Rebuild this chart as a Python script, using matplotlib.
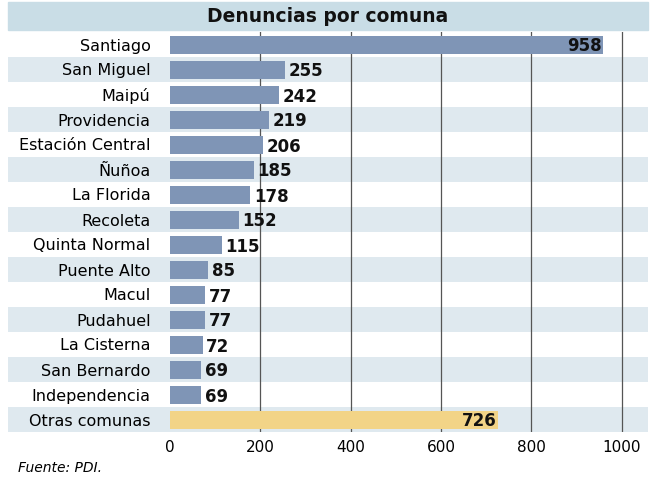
import matplotlib.pyplot as plt
import numpy as np

comunas = ['Santiago', 'San Miguel', 'Maipú', 'Providencia', 'Estación Central', 'Ñuñoa',
           'La Florida', 'Recoleta', 'Quinta Normal', 'Puente Alto', 'Macul', 'Pudahuel',
           'La Cisterna', 'San Bernardo', 'Independencia', 'Otras comunas']
denuncias = [958, 255, 242, 219, 206, 185, 178, 152, 115, 85, 77, 77, 72, 69, 69, 726]
ticks = [0, 200, 400, 600, 800, 1000]

fig = plt.figure(figsize=(6.72, 4.82), dpi=100)
ax = fig.add_axes([170/672, 1 - 432/482, 478/672, 400/482])
n = len(comunas)
y = np.arange(n)
xmax = 1058

# title band
fig.patches.append(plt.Rectangle((8/672, 1 - 30/482), 640/672, 28/482, transform=fig.transFigure,
                                 color='#c9dde6', zorder=0))
fig.text(328/672, 1 - 16/482, 'Denuncias por comuna', ha='center', va='center',
         fontsize=13.5, fontweight='bold', color='#111111')

# row stripes extending into label area
for i in range(n):
    if i % 2 == 1:
        ax.axhspan(i - 0.5, i + 0.5, xmin=-162/478, xmax=1, color='#dfe9ef', zorder=0, clip_on=False, lw=0)

for xv in ticks[1:]:
    ax.axvline(xv, color='#555555', lw=0.9, zorder=1)

colors = ['#7f95b6'] * (n - 1) + ['#f2d487']
ax.barh(y, denuncias, height=0.72, color=colors, zorder=2)
for yi, v in zip(y, denuncias):
    if v > 600:
        ax.text(v - 3, yi + 0.05, str(v), ha='right', va='center', fontsize=12, fontweight='bold',
                color='#111111', zorder=3)
    else:
        ax.text(v + 8, yi + 0.08, str(v), ha='left', va='center', fontsize=12, fontweight='bold',
                color='#111111', zorder=3)

ax.set_xlim(0, xmax)
ax.set_ylim(n - 0.5, -0.5)
ax.set_yticks(y)
ax.set_yticklabels(comunas, fontsize=11.5)
ax.set_xticks(ticks)
ax.tick_params(axis='x', labelsize=11, length=0, pad=6)
ax.tick_params(axis='y', length=0, pad=14)
for s in ax.spines.values():
    s.set_visible(False)

fig.text(18/672, 1 - 468/482, 'Fuente: PDI.', fontsize=10, style='italic', va='center')
fig.savefig('out.png', dpi=100)
